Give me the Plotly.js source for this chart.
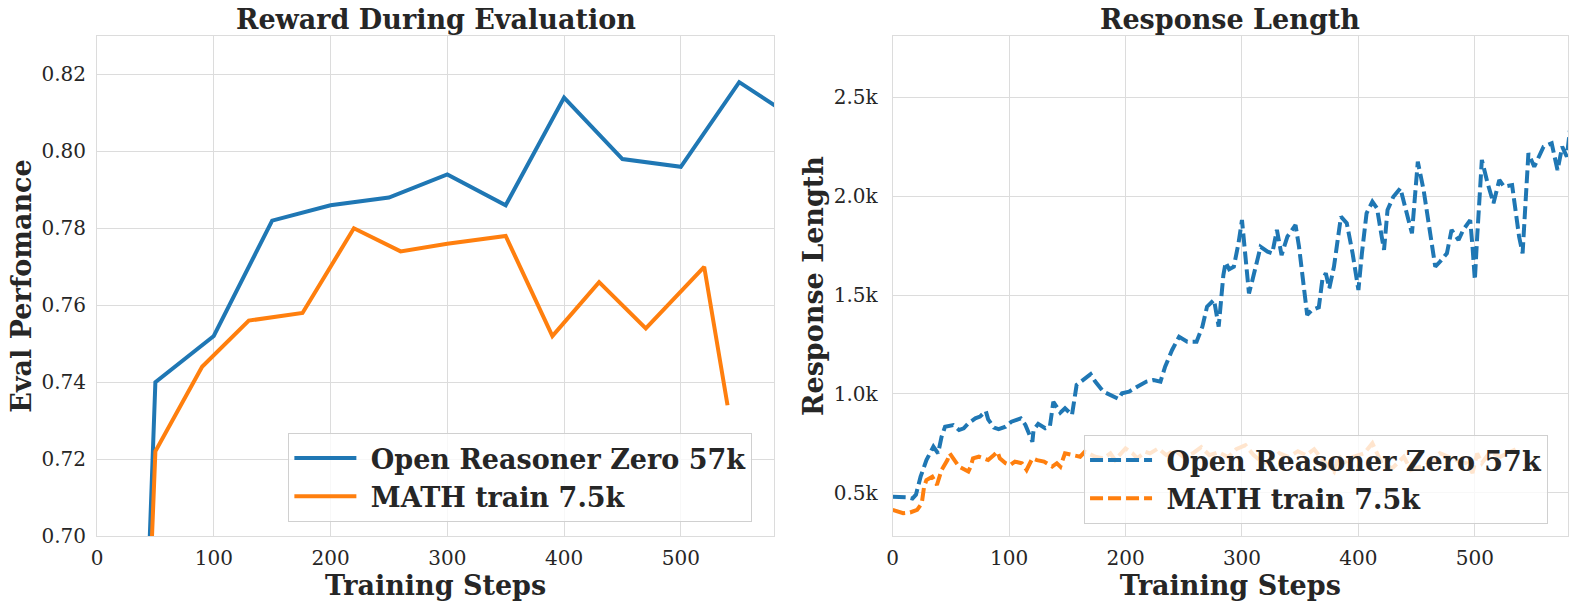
<!DOCTYPE html>
<html>
<head>
<meta charset="utf-8">
<script src="https://cdn.plot.ly/plotly-3.0.1.min.js"></script>
<style>html,body{margin:0;padding:0;background:#fff;}#chart{width:1577px;height:605px;}</style>
</head>
<body>
<div id="chart"></div>
<script>
// ---------- Data ----------
const seriesNames = ["Open Reasoner Zero 57k", "MATH train 7.5k"];

// Left: Reward During Evaluation
const evalStepsORZ = [0, 50, 100, 150, 200, 250, 300, 350, 400, 450, 500, 550, 600];
const evalORZ      = [0.32, 0.740, 0.752, 0.782, 0.786, 0.788, 0.794, 0.786, 0.814, 0.798, 0.796, 0.818, 0.808];
const evalStepsMATH = [0, 50, 90, 130, 176, 220, 260, 300, 350, 390, 430, 470, 520, 540];
const evalMATH      = [0.34, 0.722, 0.744, 0.756, 0.758, 0.780, 0.774, 0.776, 0.778, 0.752, 0.766, 0.754, 0.770, 0.734];

// Right: Response Length
const lenStepsORZ = [0,12,17,20,24,29,35,39,42,45,52,57,61,65,71,75,80,82,87,91,97,102,110,114,120,121,125,131,135,138,144,148,154,158,170,174,181,187,194,197,203,210,218,224,230,234,240,246,253,261,266,270,276,280,284,286,289,293,297,300,303,306,309,312,316,322,326,330,334,339,346,349,353,356,360,366,369,372,375,379,385,390,395,400,403,407,412,416,420,422,425,430,436,439,443,446,449,451,456,460,463,466,470,476,480,486,490,496,498,500,502,505,506,511,516,521,525,532,535,538,541,543,546,551,555,559,566,571,575,579,582];
const lenORZ = [480,477,470,490,581,665,733,699,783,834,842,817,826,851,876,885,913,871,829,821,834,859,876,843,758,817,848,826,834,960,905,927,893,1045,1100,1062,1011,994,974,1003,1011,1036,1062,1070,1062,1137,1222,1289,1264,1264,1340,1441,1475,1340,1600,1665,1630,1643,1761,1879,1677,1508,1576,1643,1744,1719,1711,1829,1702,1795,1854,1744,1542,1399,1424,1438,1576,1610,1534,1643,1896,1863,1711,1525,1711,1913,1972,1938,1795,1728,1930,1997,2040,1964,1879,1812,2031,2174,2031,1879,1761,1643,1668,1711,1829,1778,1829,1879,1744,1576,1795,2048,2183,2065,1964,2082,2048,2056,1913,1795,1711,1930,2217,2149,2200,2250,2267,2132,2250,2200,2351];
const lenStepsMATH = [0,4,9,15,21,25,27,29,34,38,42,47,49,57,62,65,67,69,74,78,82,87,90,92,97,101,105,111,115,120,124,130,137,141,144,148,154,161,165,174,181,187,191,200,206,210,217,221,228,235,242,250,258,265,272,280,288,295,303,310,318,325,332,340,348,355,362,370,379,383,387,395,405,412,420,429,439,445,453,463,470,478,486,493,498,502,506,513,522,528,535];
const lenMATH = [413,404,396,400,413,446,531,564,581,539,615,665,699,632,615,607,632,674,682,674,665,691,708,674,649,640,657,649,615,674,665,657,632,649,632,699,691,682,707,682,674,699,665,724,699,674,707,699,724,690,715,680,700,730,690,705,680,720,740,690,650,665,700,680,710,690,720,660,606,690,649,680,699,750,649,623,682,615,632,649,700,680,660,649,600,699,650,707,682,700,720];

const lenTickVals = [500, 1000, 1500, 2000, 2500];
const lenTickText = ["0.5k", "1.0k", "1.5k", "2.0k", "2.5k"];
const stepTickVals = [0, 100, 200, 300, 400, 500];

// ---------- Styling ----------
const BLUE = "#1f77b4", ORANGE = "#ff7f0e";
const TXT = "#262626", GRID = "#dcdcdc";
const SERIF = "DejaVu Serif";
const PAD = "\u00a0"; // small gap between legend symbol and text

const traces = [
  {x: evalStepsORZ, y: evalORZ, xaxis: "x", yaxis: "y", type: "scatter", mode: "lines",
   name: PAD + seriesNames[0], legend: "legend", line: {color: BLUE, width: 4}},
  {x: evalStepsMATH, y: evalMATH, xaxis: "x", yaxis: "y", type: "scatter", mode: "lines",
   name: PAD + seriesNames[1], legend: "legend", line: {color: ORANGE, width: 4}},
  {x: lenStepsORZ, y: lenORZ, xaxis: "x2", yaxis: "y2", type: "scatter", mode: "lines",
   name: PAD + seriesNames[0], legend: "legend2", line: {color: BLUE, width: 4, dash: "13px,5px"}},
  {x: lenStepsMATH, y: lenMATH, xaxis: "x2", yaxis: "y2", type: "scatter", mode: "lines",
   name: PAD + seriesNames[1], legend: "legend2", line: {color: ORANGE, width: 4, dash: "13px,5px"}}
];

const tickFont = {family: SERIF, size: 20, color: TXT};
const titleFont = {family: SERIF, size: 27, color: TXT, weight: "bold"};

function xAxis(domain, anchor) {
  return {domain: domain, anchor: anchor, range: [0, 580], tickvals: stepTickVals,
    showgrid: true, gridcolor: GRID, gridwidth: 1, zeroline: false,
    showline: true, linecolor: GRID, linewidth: 1, mirror: true, ticks: "",
    tickfont: tickFont, ticklabelstandoff: 4,
    title: {text: "Training Steps", font: titleFont, standoff: 2}};
}
function legendCfg(x, y) {
  return {x: x, y: y, xanchor: "left", yanchor: "top", xref: "paper", yref: "paper",
    bgcolor: "rgba(255,255,255,0.8)", bordercolor: "#d0d0d0", borderwidth: 1,
    font: {family: SERIF, size: 27, color: TXT, weight: "bold"}, itemwidth: 62,
    tracegroupgap: 0};
}

const layout = {
  width: 1577, height: 605,
  margin: {l: 96.5, r: 9, t: 36, b: 69},
  paper_bgcolor: "#ffffff", plot_bgcolor: "#ffffff",
  font: {family: SERIF, color: TXT},
  xaxis: xAxis([0, 0.4604], "y"),
  xaxis2: xAxis([0.5409, 1], "y2"),
  yaxis: {domain: [0, 1], anchor: "x", range: [0.70, 0.83], dtick: 0.02, tick0: 0.70, tickformat: ".2f",
    showgrid: true, gridcolor: GRID, zeroline: false, showline: true, linecolor: GRID, mirror: true,
    ticks: "", tickfont: tickFont, ticklabelstandoff: 6,
    title: {text: "Eval Perfomance", font: titleFont, standoff: 2}},
  yaxis2: {domain: [0, 1], anchor: "x2", range: [281, 2810], tickvals: lenTickVals, ticktext: lenTickText,
    showgrid: true, gridcolor: GRID, zeroline: false, showline: true, linecolor: GRID, mirror: true,
    ticks: "", tickfont: tickFont, ticklabelstandoff: 10,
    title: {text: "Response Length", font: titleFont, standoff: 2}},
  legend: legendCfg(0.1301, 0.206),
  legend2: legendCfg(0.671, 0.202),
  showlegend: true,
  annotations: [
    {text: "Reward During Evaluation", xref: "x domain", yref: "paper", x: 0.5, y: 1, yshift: -1,
     xanchor: "center", yanchor: "bottom", showarrow: false, font: titleFont},
    {text: "Response Length", xref: "x2 domain", yref: "paper", x: 0.5, y: 1, yshift: -1,
     xanchor: "center", yanchor: "bottom", showarrow: false, font: titleFont}
  ]
};

Plotly.newPlot("chart", traces, layout, {staticPlot: true, displayModeBar: false});
</script>
</body>
</html>
